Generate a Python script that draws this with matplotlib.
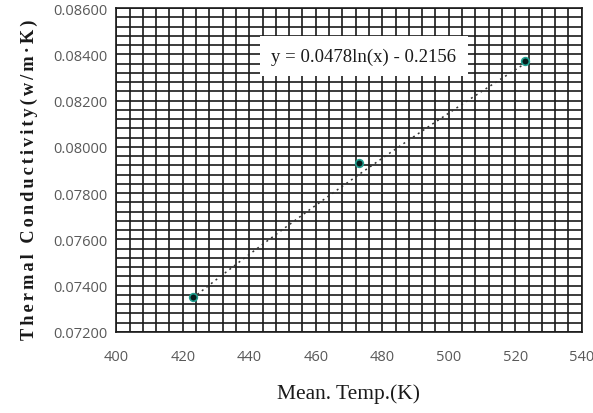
import numpy as np
import matplotlib
matplotlib.use("Agg")
import matplotlib.pyplot as plt
from matplotlib.ticker import MultipleLocator, FormatStrFormatter

# data
mean_temp = [423, 473, 523]
conductivity = [0.0735, 0.0793, 0.0837]
fit_a = 0.0478
fit_b = -0.2156
eq_label = "y = 0.0478ln(x) - 0.2156"
x_label = "Mean. Temp.(K)"
y_label = "Thermal Conductivity(w/m·K)"

fig = plt.figure(figsize=(5.93, 4.14), dpi=100)
ax = fig.add_axes([0.196, 0.196, 0.785, 0.782])

ax.set_xlim(400, 540)
ax.set_ylim(0.072, 0.086)
ax.xaxis.set_major_locator(MultipleLocator(20))
ax.xaxis.set_minor_locator(MultipleLocator(4))
ax.yaxis.set_major_locator(MultipleLocator(0.002))
ax.yaxis.set_minor_locator(MultipleLocator(0.0004))
ax.yaxis.set_major_formatter(FormatStrFormatter("%.5f"))

ax.grid(which="both", color="#1a1a1a", linewidth=1.2)
ax.set_axisbelow(True)
for s in ax.spines.values():
    s.set_color("#1a1a1a")
    s.set_linewidth(1.2)

ax.tick_params(which="both", length=0, labelsize=10.5, labelcolor="#595959")
ax.tick_params(axis="x", pad=12)
ax.tick_params(axis="y", pad=6)
for lab in ax.get_xticklabels() + ax.get_yticklabels():
    lab.set_fontfamily(["Open Sans", "DejaVu Sans"])

# trendline
xs = np.linspace(min(mean_temp), max(mean_temp), 200)
ax.plot(xs, fit_a * np.log(xs) + fit_b, linestyle=(0, (1.3, 2.5)), color="#333333",
        linewidth=1.1, zorder=3)

ax.plot(mean_temp, conductivity, linestyle="none", marker="o", markersize=5.5,
        markerfacecolor="#061c1c", markeredgecolor="#20a090", markeredgewidth=1.2,
        zorder=4)

ax.text(474.5, 0.08393, eq_label, ha="center", va="center", fontsize=13.5,
        family=["Liberation Serif", "DejaVu Serif"], color="#1a1a1a", zorder=5,
        bbox=dict(boxstyle="square,pad=0.62", facecolor="white", edgecolor="none"))

ax.set_xlabel(x_label, fontsize=15.5, family=["Liberation Serif", "DejaVu Serif"],
              labelpad=14, color="#1a1a1a")
spaced = "\u200a\u200a".join(y_label)
ax.set_ylabel(spaced, fontsize=13.2, fontweight="bold",
              family=["Liberation Serif", "DejaVu Serif"], color="#1a1a1a")
ax.yaxis.set_label_coords(-0.167, 0.472)

fig.savefig("out.png", dpi=100)
